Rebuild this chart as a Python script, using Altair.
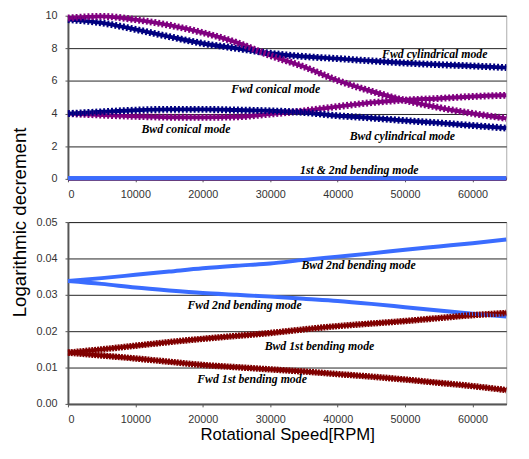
import altair as alt
import pandas as pd

# ---------------- data ----------------
speed = [0, 5000, 10000, 15000, 20000, 25000, 30000, 35000, 40000, 45000, 50000, 55000, 60000, 65000]

fwd_cyl = [9.76, 9.56, 9.16, 8.72, 8.30, 8.00, 7.70, 7.50, 7.37, 7.23, 7.10, 7.00, 6.92, 6.82]
fwd_con = [9.86, 9.96, 9.76, 9.42, 8.96, 8.36, 7.56, 6.87, 6.03, 5.37, 4.81, 4.37, 4.01, 3.71]
bwd_con = [4.00, 3.91, 3.83, 3.78, 3.77, 3.80, 3.97, 4.17, 4.43, 4.67, 4.83, 4.93, 5.05, 5.12]
bwd_cyl = [4.00, 4.11, 4.21, 4.26, 4.26, 4.22, 4.17, 4.07, 3.87, 3.73, 3.57, 3.43, 3.27, 3.11]

bwd_2nd = [0.0338, 0.0346, 0.0355, 0.0364, 0.0373, 0.0380, 0.0386, 0.0396, 0.0405, 0.0414, 0.0424, 0.0433, 0.0442, 0.0452]
fwd_2nd = [0.0338, 0.0330, 0.0320, 0.0312, 0.0305, 0.0300, 0.0295, 0.0289, 0.0283, 0.0275, 0.0266, 0.0257, 0.0248, 0.0240]
bwd_1st = [0.0141, 0.0150, 0.0160, 0.0170, 0.0179, 0.0187, 0.0195, 0.0205, 0.0214, 0.0221, 0.0228, 0.0236, 0.0244, 0.0250]
fwd_1st = [0.0141, 0.0133, 0.0125, 0.0116, 0.0107, 0.0101, 0.0095, 0.0089, 0.0082, 0.0075, 0.0067, 0.0058, 0.0049, 0.0038]

top_labels = ["Fwd cylindrical mode", "Fwd conical mode", "Bwd conical mode", "Bwd cylindrical mode", "1st & 2nd bending mode"]
top_label_x = [54400, 30800, 17500, 49600, 43200]
top_label_y = [7.66, 5.5, 3.05, 2.63, 0.54]

bot_labels = ["Bwd 2nd bending mode", "Fwd 2nd bending mode", "Bwd 1st bending mode", "Fwd 1st bending mode"]
bot_label_x = [43100, 26200, 37300, 27300]
bot_label_y = [0.0381, 0.0272, 0.0159, 0.0068]

NAVY = "#000080"
PURPLE = "#800080"
LBLUE = "#3a6cff"
DRED = "#800000"

def long(series):
    rows = []
    for name, col, vals in series:
        for s, v in zip(speed, vals):
            rows.append({"speed": s, "value": v, "mode": name, "col": col})
    return pd.DataFrame(rows)

top_df = long([("Fwd cyl", NAVY, fwd_cyl), ("Fwd con", PURPLE, fwd_con),
               ("Bwd con", PURPLE, bwd_con), ("Bwd cyl", NAVY, bwd_cyl)])
bend_df = long([("Bwd 1st", DRED, bwd_1st), ("Fwd 1st", DRED, fwd_1st),
                ("Bwd 2nd", LBLUE, bwd_2nd), ("Fwd 2nd", LBLUE, fwd_2nd)])

color = alt.Color("col:N", scale=None, legend=None)

W = 446
xscale = alt.Scale(domain=[0, 65000], nice=False)
ytop_scale = alt.Scale(domain=[0, 10], nice=False)
ybot_scale = alt.Scale(domain=[0, 0.05], nice=False)

def xenc(field, title=None):
    return alt.X(field, type="quantitative", scale=xscale,
                 axis=alt.Axis(values=[0, 10000, 20000, 30000, 40000, 50000, 60000],
                               grid=False, title=title, format="d", labelOverlap=False))

ytop_axis = alt.Axis(values=[0, 2, 4, 6, 8, 10], title=None, format="d", labelOverlap=False)

def ytop(field):
    return alt.Y(field, type="quantitative", scale=ytop_scale, axis=ytop_axis)

ybot_axis = alt.Axis(values=[0, 0.01, 0.02, 0.03, 0.04, 0.05], format=".2f", labelOverlap=False, title=None)

def ybot(field):
    return alt.Y(field, type="quantitative", scale=ybot_scale, axis=ybot_axis)

txt_style = dict(font="Liberation Serif", fontStyle="italic", fontWeight="bold", fontSize=12, color="black")

# ---------------- top panel ----------------
bend_top = alt.Chart(bend_df).mark_line(strokeWidth=4).encode(
    x=xenc("speed"), y=ytop("value"), color=color, detail="mode:N")

base_top = alt.Chart(top_df).encode(x=xenc("speed"), y=ytop("value"), color=color, detail="mode:N")
top_lines = base_top.mark_line(strokeWidth=4, interpolate="monotone")
top_serr = base_top.mark_line(strokeWidth=7, strokeDash=[2, 2], interpolate="monotone")

top_text = alt.Chart(pd.DataFrame({"t": top_labels, "x": top_label_x, "y": top_label_y})).mark_text(
    **txt_style).encode(x=xenc("x"), y=ytop("y"), text="t:N")

top = alt.layer(bend_top, top_lines, top_serr, top_text).properties(width=W, height=166)

# ---------------- bottom panel ----------------
XT = "Rotational Speed[RPM]"
base_bot = alt.Chart(bend_df).encode(x=xenc("speed", XT), y=ybot("value"), color=color, detail="mode:N")
bot_lines = base_bot.mark_line(strokeWidth=4, interpolate="monotone")
bot_red = base_bot.transform_filter(
    alt.FieldOneOfPredicate(field="mode", oneOf=["Bwd 1st", "Fwd 1st"])
).mark_line(strokeWidth=6.5, strokeDash=[2, 1], interpolate="monotone")

bot_text = alt.Chart(pd.DataFrame({"t": bot_labels, "x": bot_label_x, "y": bot_label_y})).mark_text(
    **txt_style).encode(x=xenc("x", XT), y=ybot("y"), text="t:N")

bottom = alt.layer(bot_lines, bot_red, bot_text).properties(width=W, height=185)

chart = alt.vconcat(top, bottom, spacing=44, bounds="flush").resolve_scale(
    x="independent", y="independent"
).properties(
    padding={"left": 3, "top": -10, "right": 0, "bottom": 0},
    title=alt.TitleParams("Logarithmic decrement", orient="left", anchor="middle",
                          font="Liberation Sans", fontSize=19, fontWeight="normal",
                          color="black", offset=6)
).configure_view(
    stroke="#aaaaaa", strokeWidth=1
).configure_axis(
    labelFont="Liberation Sans", labelFontSize=11, labelColor="#333333",
    titleFont="Liberation Sans", titleFontSize=17, titleFontWeight="normal", titleColor="black",
    domainColor="#555555", domainWidth=2, tickColor="#555555", tickSize=3,
    gridColor="#222222", gridWidth=1, labelPadding=8
).configure_axisX(labelPadding=7, titlePadding=2)

chart.save("out.html", embed_options={"renderer": "svg", "actions": False})
